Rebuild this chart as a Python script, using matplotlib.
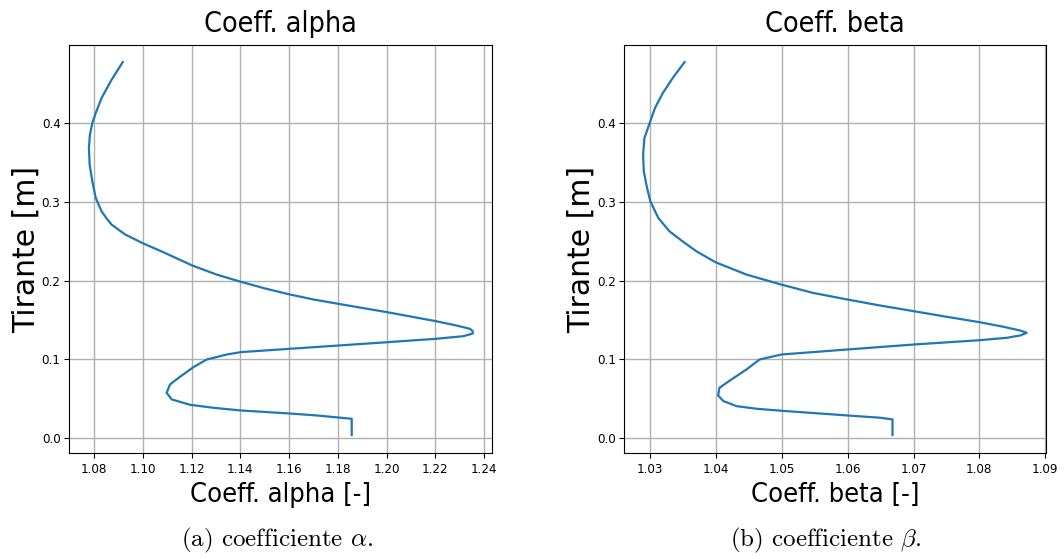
import matplotlib
matplotlib.use('Agg')
import matplotlib.pyplot as plt
from matplotlib.ticker import MultipleLocator

# values
alpha_x = [1.0917, 1.0871, 1.0830, 1.0806, 1.0792, 1.0782, 1.0778, 1.0781, 1.0792, 1.0806,
	1.0830, 1.0851, 1.0871, 1.0926, 1.1001, 1.1083, 1.1203, 1.1303, 1.1401, 1.1501, 1.1601,
	1.1702, 1.1802, 1.1902, 1.2003, 1.2103, 1.2203, 1.2288, 1.2343, 1.2354, 1.2354,
	1.2315, 1.2203, 1.2003, 1.1802, 1.1601, 1.1401, 1.1344, 1.1262, 1.1207, 1.1152,
	1.1111, 1.1097, 1.1118, 1.1193, 1.1289, 1.1402, 1.1601, 1.1713, 1.1857, 1.1857]
alpha_y = [0.4768, 0.4544, 0.4313, 0.4123, 0.3996, 0.3848, 0.3680, 0.3468, 0.3257, 0.3047,
	0.2877, 0.2785, 0.2709, 0.2585, 0.2470, 0.2360, 0.2190, 0.2075, 0.1985, 0.1900, 0.1825,
	0.1759, 0.1705, 0.1652, 0.1599, 0.1542, 0.1485, 0.1430, 0.1388, 0.1358, 0.1329,
	0.1295, 0.1262, 0.1219, 0.1177, 0.1135, 0.1093, 0.1063, 0.1000, 0.0903, 0.0781,
	0.0684, 0.0578, 0.0494, 0.0426, 0.0388, 0.0354, 0.0316, 0.0291, 0.0249, 0.0042]

beta_x = [1.0352, 1.0334, 1.0319, 1.0307, 1.0299, 1.0291, 1.0289, 1.0290, 1.0295, 1.0300,
	1.0312, 1.0329, 1.0350, 1.0370, 1.0399, 1.0446, 1.0499, 1.0547, 1.0600, 1.0649,
	1.0701, 1.0751, 1.0800, 1.0837, 1.0862, 1.0872, 1.0862, 1.0842, 1.0800, 1.0701,
	1.0600, 1.0499, 1.0466, 1.0446, 1.0421, 1.0405, 1.0403, 1.0411, 1.0431, 1.0461,
	1.0500, 1.0599, 1.0649, 1.0668, 1.0668]
beta_y = [0.4768, 0.4566, 0.4376, 0.4186, 0.3996, 0.3806, 0.3595, 0.3384, 0.3173, 0.3004,
	0.2794, 0.2624, 0.2490, 0.2371, 0.2232, 0.2076, 0.1949, 0.1844, 0.1759, 0.1684,
	0.1611, 0.1540, 0.1473, 0.1414, 0.1367, 0.1338, 0.1304, 0.1275, 0.1244, 0.1190,
	0.1127, 0.1063, 0.1000, 0.0873, 0.0734, 0.0641, 0.0544, 0.0473, 0.0409, 0.0376,
	0.0350, 0.0291, 0.0262, 0.0241, 0.0042]

titles = ['Coeff. alpha', 'Coeff. beta']
xlabels = ['Coeff. alpha [-]', 'Coeff. beta [-]']
ylabel = 'Tirante [m]'
captions = [r'(a) coefficiente $\alpha$.', r'(b) coefficiente $\beta$.']
x_steps = [0.02, 0.01]
x_limits = [(1.0696, 1.2433), (1.0260, 1.0902)]
y_limits = (-0.0185, 0.4985)

plt.rcParams['mathtext.fontset'] = 'cm'

cond = dict(family='DejaVu Sans', stretch='condensed')

fig = plt.figure(figsize=(10.64, 5.59), dpi=100)
boxes = [[0.0648, 0.1896, 0.3976, 0.730], [0.5865, 0.1896, 0.3970, 0.730]]
series = [(alpha_x, alpha_y), (beta_x, beta_y)]
caption_x = [0.2603, 0.776]

for i, ax_box in enumerate(boxes):
	ax = fig.add_axes(ax_box)
	xs, ys = series[i]
	ax.plot(xs, ys, color='#1f77b4', lw=1.6)
	ax.set_xlim(*x_limits[i])
	ax.set_ylim(*y_limits)
	ax.grid(True, color='#b0b0b0', lw=1.0)
	ax.set_axisbelow(True)
	ax.xaxis.set_major_locator(MultipleLocator(x_steps[i]))
	ax.yaxis.set_major_locator(MultipleLocator(0.1))
	ax.tick_params(axis='x', pad=4)
	ax.tick_params(axis='y', pad=2.5)
	for lab in ax.get_xticklabels() + ax.get_yticklabels():
		lab.set_fontproperties(dict(size=9.5, **cond))
	ax.set_title(titles[i], fontsize=20.5, pad=9, **cond)
	ax.set_xlabel(xlabels[i], fontsize=19.5, labelpad=4, **cond)
	ax.set_ylabel(ylabel, fontsize=21.5, family='DejaVu Sans', labelpad=1)
	for sp in ax.spines.values():
		sp.set_color('black')
	fig.text(caption_x[i], 0.0233, captions[i], ha='center', va='baseline',
		fontsize=18, family='cmr10')

fig.savefig('out.png', dpi=100)
